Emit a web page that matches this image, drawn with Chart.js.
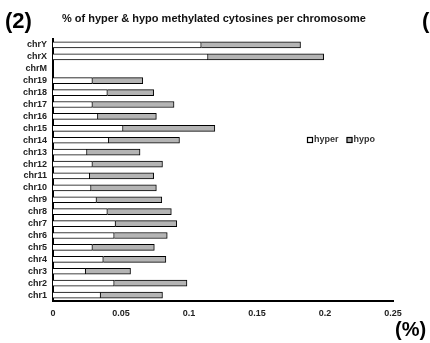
<!DOCTYPE html>
<html lang="en">
<head>
  <meta charset="UTF-8" />
  <title>Methylated cytosines per chromosome</title>
  <script src="https://cdn.jsdelivr.net/npm/chart.js"></script>
  <style>
    body { margin: 0; background: #fff; font-family: "Liberation Sans", Arial, sans-serif; }
    .wrap { position: relative; width: 430px; height: 343px; }
    canvas { position: absolute; left: 0; top: 0; }
    .lbl { position: absolute; font-weight: bold; color: #000; white-space: nowrap; line-height: 1; }
  </style>
</head>
<body>
  <div class="wrap">
    <canvas id="chart" width="430" height="343"></canvas>
    <div class="lbl" style="left:5px; top:10px; font-size:22px;">(2)</div>
    <div class="lbl" style="left:422px; top:10px; font-size:22px;">(</div>
    <div class="lbl" style="left:62px; top:13px; font-size:11px; color:#111;">% of hyper &amp; hypo methylated cytosines per chromosome</div>
    <div class="lbl" style="left:395px; top:319px; font-size:20px;">(%)</div>
  </div>

  <script>
    // chromosomes, top to bottom
    const chromosomes = ['chrY', 'chrX', 'chrM', 'chr19', 'chr18', 'chr17', 'chr16', 'chr15', 'chr14',
      'chr13', 'chr12', 'chr11', 'chr10', 'chr9', 'chr8', 'chr7', 'chr6', 'chr5', 'chr4', 'chr3', 'chr2', 'chr1'];

    // % hyper methylated
    const hyper = [0.109, 0.114, 0, 0.029, 0.040, 0.029, 0.033, 0.0515, 0.041,
      0.025, 0.029, 0.027, 0.028, 0.032, 0.040, 0.046, 0.045, 0.029, 0.037, 0.024, 0.045, 0.035];

    // % hypo methylated (stacked after hyper)
    const hypo = [0.073, 0.085, 0, 0.037, 0.034, 0.060, 0.043, 0.0675, 0.052,
      0.039, 0.0515, 0.047, 0.048, 0.048, 0.047, 0.045, 0.039, 0.0455, 0.046, 0.033, 0.0535, 0.0455];

    const xTicks = [0, 0.05, 0.1, 0.15, 0.2, 0.25];

    const tickFont = { family: '"Liberation Sans", Arial, sans-serif', size: 9, weight: 'bold' };

    // small legend placed inside the plot, to the right
    const legendPlugin = {
      id: 'sideLegend',
      afterDraw(chart) {
        const ctx = chart.ctx;
        ctx.save();
        ctx.font = 'bold 9px "Liberation Sans", Arial, sans-serif';
        ctx.textBaseline = 'middle';
        let x = 307;
        const y = 140;
        chart.data.datasets.forEach(ds => {
          ctx.fillStyle = ds.backgroundColor;
          ctx.fillRect(x, y - 3, 6, 6);
          ctx.strokeStyle = '#000';
          ctx.lineWidth = 1.2;
          ctx.strokeRect(x + 0.5, y - 2.5, 5, 5);
          ctx.fillStyle = '#333';
          ctx.fillText(ds.label, x + 7, y);
          x += 7 + ctx.measureText(ds.label).width + 8;
        });
        ctx.restore();
      }
    };

    new Chart(document.getElementById('chart').getContext('2d'), {
      type: 'bar',
      data: {
        labels: chromosomes,
        datasets: [
          { label: 'hyper', data: hyper, backgroundColor: '#ffffff', borderColor: '#000', borderWidth: 1, barThickness: 6 },
          { label: 'hypo', data: hypo, backgroundColor: '#b4b4b4', borderColor: '#000', borderWidth: 1, barThickness: 6 }
        ]
      },
      options: {
        indexAxis: 'y',
        responsive: false,
        devicePixelRatio: 1,
        animation: false,
        layout: { padding: { top: 39, right: 37, left: 0, bottom: 0 } },
        plugins: {
          legend: { display: false },
          title: { display: false },
          tooltip: { enabled: false }
        },
        scales: {
          x: {
            stacked: true,
            min: 0,
            max: 0.25,
            afterBuildTicks: scale => { scale.ticks = xTicks.map(v => ({ value: v })); },
            afterFit: scale => { scale.height = 42; },
            grid: { display: false, drawTicks: false },
            border: { display: true, color: '#000', width: 2 },
            ticks: {
              padding: 7,
              color: '#222',
              font: tickFont,
              maxRotation: 0,
              callback: v => String(Math.round(v * 100) / 100)
            }
          },
          y: {
            stacked: true,
            afterFit: scale => { scale.width = 53; },
            grid: { display: false, drawTicks: false },
            border: { display: true, color: '#000', width: 2 },
            ticks: { padding: 6, color: '#222', font: tickFont, autoSkip: false }
          }
        }
      },
      plugins: [legendPlugin]
    });
  </script>
</body>
</html>
